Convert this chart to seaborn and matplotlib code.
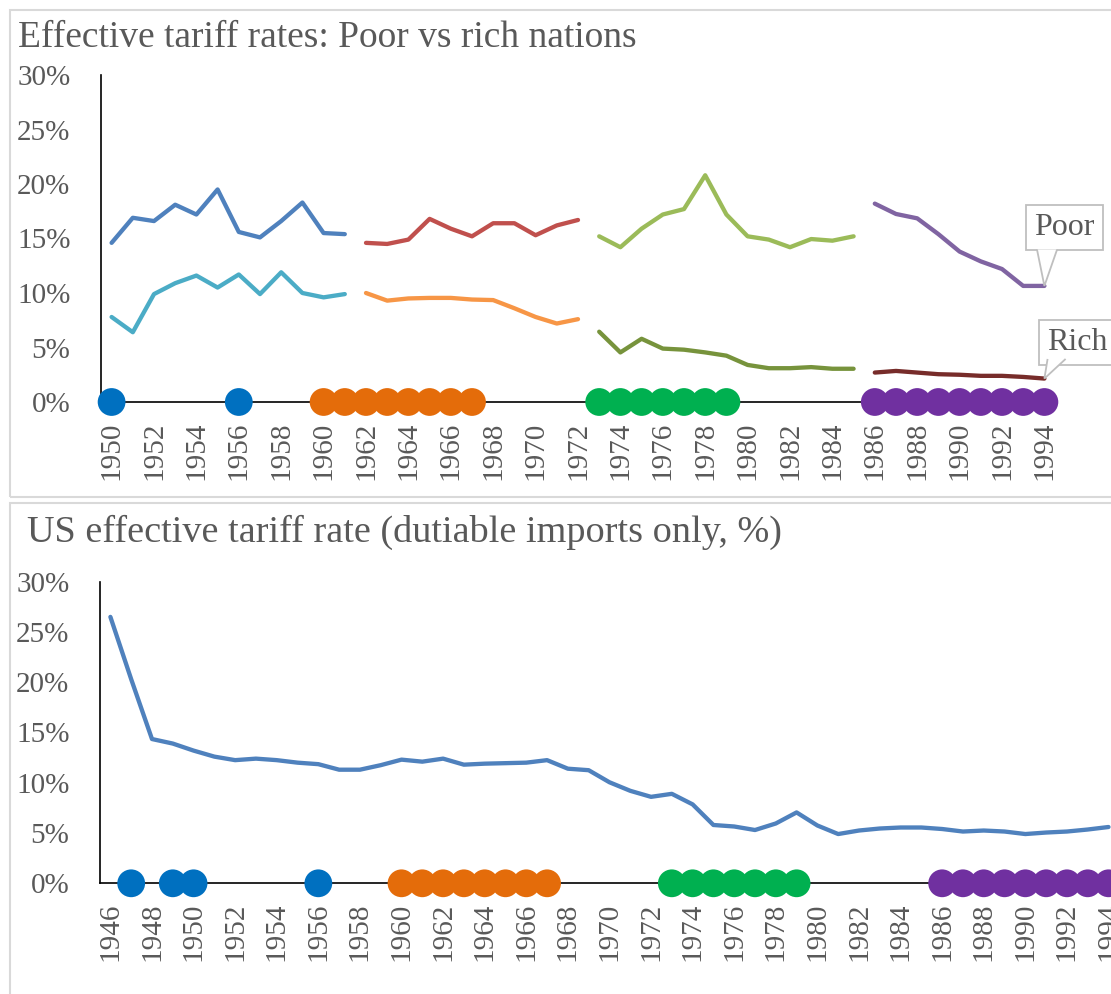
import matplotlib.pyplot as plt
import seaborn as sns
import pandas as pd
from matplotlib.patches import Rectangle, Polygon

sns.set_style('white')
plt.rcParams['font.family'] = ['Liberation Serif', 'DejaVu Serif']

GREY = '#595959'
EDGE = '#BFBFBF'

# top chart: poor vs rich nations, one block per period
years_a = list(range(1950, 1962))
poor_a = [14.6, 16.9, 16.6, 18.1, 17.2, 19.5, 15.6, 15.1, 16.6, 18.3, 15.5, 15.4]
rich_a = [7.8, 6.4, 9.9, 10.9, 11.6, 10.5, 11.7, 9.9, 11.9, 10.0, 9.6, 9.9]

years_b = list(range(1962, 1973))
poor_b = [14.6, 14.5, 14.9, 16.8, 15.9, 15.2, 16.4, 16.4, 15.3, 16.2, 16.7]
rich_b = [10.0, 9.3, 9.5, 9.55, 9.55, 9.4, 9.35, 8.6, 7.8, 7.2, 7.6]

years_c = list(range(1973, 1986))
poor_c = [15.2, 14.2, 15.9, 17.2, 17.7, 20.8, 17.2, 15.2, 14.9, 14.2, 14.95, 14.8, 15.2]
rich_c = [6.45, 4.55, 5.8, 4.9, 4.8, 4.55, 4.25, 3.4, 3.1, 3.1, 3.2, 3.05, 3.05]

years_d = list(range(1986, 1995))
poor_d = [18.2, 17.25, 16.85, 15.4, 13.8, 12.9, 12.2, 10.65, 10.65]
rich_d = [2.7, 2.85, 2.7, 2.55, 2.5, 2.4, 2.4, 2.3, 2.15]

# bottom chart: US
us_years = list(range(1946, 1995))
us_rate = [26.5, 20.3, 14.35, 13.9, 13.2, 12.6, 12.25, 12.4, 12.25, 12.0,
           11.85, 11.3, 11.3, 11.75, 12.3, 12.1, 12.4, 11.8, 11.9, 11.95,
           12.0, 12.25, 11.4, 11.25, 10.05, 9.2, 8.6, 8.9, 7.85, 5.8,
           5.65, 5.3, 5.95, 7.05, 5.75, 4.9, 5.25, 5.45, 5.55, 5.55,
           5.4, 5.15, 5.25, 5.15, 4.9, 5.05, 5.15, 5.35, 5.6]

# round markers along the axis
dots_blue_top = [1950, 1956]
dots_blue_bottom = [1947, 1949, 1950, 1956]
dots_orange = list(range(1960, 1968))
dots_green = list(range(1973, 1980))
dots_purple = list(range(1986, 1995))

line_colors = {'poor_a': '#4F81BD', 'rich_a': '#4BACC6',
               'poor_b': '#C0504D', 'rich_b': '#F79646',
               'poor_c': '#9BBB59', 'rich_c': '#77933C',
               'poor_d': '#8064A2', 'rich_d': '#772C2A'}
dot_colors = {'blue': '#0070C0', 'orange': '#E46C0A',
              'green': '#00B050', 'purple': '#7030A0'}

rows = []
for name, yrs, vals in [('poor_a', years_a, poor_a), ('rich_a', years_a, rich_a),
                        ('poor_b', years_b, poor_b), ('rich_b', years_b, rich_b),
                        ('poor_c', years_c, poor_c), ('rich_c', years_c, rich_c),
                        ('poor_d', years_d, poor_d), ('rich_d', years_d, rich_d)]:
    rows += [{'year': y, 'rate': v, 'seg': name} for y, v in zip(yrs, vals)]
top_df = pd.DataFrame(rows)


def dots_frame(blue):
    d = []
    for name, yrs in [('blue', blue), ('orange', dots_orange),
                      ('green', dots_green), ('purple', dots_purple)]:
        d += [{'year': y, 'rate': 0, 'grp': name} for y in yrs]
    return pd.DataFrame(d)


def style_axis(ax, ticks, xlim):
    ax.set_xlim(*xlim)
    ax.set_ylim(0, 30)
    ax.set_yticks(range(0, 31, 5))
    ax.set_yticklabels([f'{v}%' for v in range(0, 31, 5)])
    ax.set_xticks(ticks)
    ax.set_xticklabels([str(t) for t in ticks], rotation=90)
    ax.tick_params(axis='y', length=0, pad=22, labelsize=21, labelcolor=GREY)
    ax.tick_params(axis='x', length=0, pad=14, labelsize=21, labelcolor=GREY)
    for s in ['top', 'right']:
        ax.spines[s].set_visible(False)
    for s in ['left', 'bottom']:
        ax.spines[s].set_color('black')
        ax.spines[s].set_linewidth(1.2)
    ax.set_xlabel('')
    ax.set_ylabel('')
    ax.patch.set_alpha(0)


def callout(ax, text, xy, text_xy, base_x, base_y):
    ax.text(*text_xy, text, ha='center', va='center', fontsize=23, color=GREY, zorder=10,
            bbox=dict(boxstyle='square,pad=0.25', fc='white', ec=EDGE, lw=1.3),
            clip_on=False)
    ax.add_patch(Polygon([(base_x[0], base_y), xy, (base_x[1], base_y)], closed=False,
                         fc='white', ec=EDGE, lw=1.3, zorder=11, clip_on=False))


fig = plt.figure(figsize=(11.11, 9.94), dpi=100)

# panel frames
fig.add_artist(Rectangle((10 / 1111, 1 - 497 / 994), 1.0, 487 / 994, transform=fig.transFigure,
                         fill=False, ec='#D9D9D9', lw=1.5))
fig.add_artist(Rectangle((10 / 1111, -0.05), 1.0, 1 - 503 / 994 + 0.05, transform=fig.transFigure,
                         fill=False, ec='#D9D9D9', lw=1.5))

ax1 = fig.add_axes([101 / 1111, 1 - 402 / 994, 954 / 1111, 327 / 994])
sns.lineplot(data=top_df, x='year', y='rate', hue='seg', palette=line_colors,
             estimator=None, lw=3.1, legend=False, ax=ax1)
sns.scatterplot(data=dots_frame(dots_blue_top), x='year', y='rate', hue='grp',
                palette=dot_colors, s=400, linewidth=0, legend=False,
                clip_on=False, zorder=5, ax=ax1)
style_axis(ax1, list(range(1950, 1995, 2)), (1949.5, 1994.5))

callout(ax1, 'Poor', (years_d[-1], poor_d[-1]), (1994.95, 16.0), (1993.65, 1994.6), 14.0)
callout(ax1, 'Rich', (years_d[-1], rich_d[-1]), (1995.55, 5.45), (1994.15, 1995.0), 3.95)

ax2 = fig.add_axes([100 / 1111, 1 - 883.3 / 994, 1011 / 1111, 301.6 / 994])
sns.lineplot(x=us_years, y=us_rate, color='#4F81BD', lw=3.1, ax=ax2)
sns.scatterplot(data=dots_frame(dots_blue_bottom), x='year', y='rate', hue='grp',
                palette=dot_colors, s=400, linewidth=0, legend=False,
                clip_on=False, zorder=5, ax=ax2)
style_axis(ax2, list(range(1946, 1995, 2)), (1945.5, 1994.12))

fig.text(18 / 1111, 1 - 38 / 994, 'Effective tariff rates: Poor vs rich nations',
         fontsize=27, color=GREY, va='center', ha='left')
fig.text(27 / 1111, 1 - 532 / 994, 'US effective tariff rate (dutiable imports only, %)',
         fontsize=27.5, color=GREY, va='center', ha='left')

fig.savefig('out.png', dpi=100)
